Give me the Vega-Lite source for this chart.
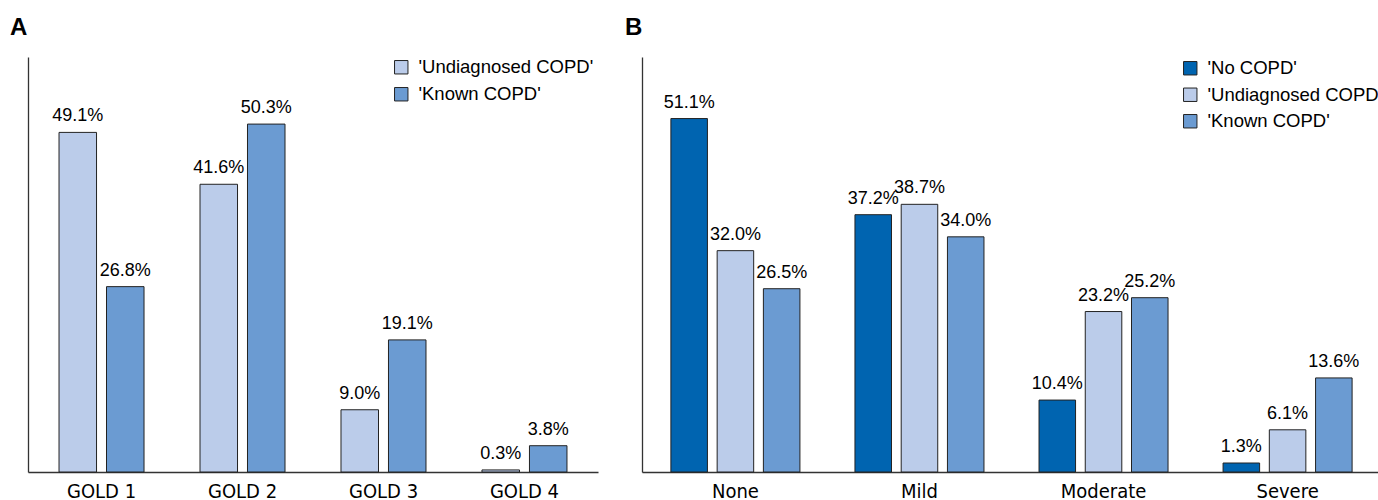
{
  "$schema": "https://vega.github.io/schema/vega-lite/v6.json",
  "padding": {"left": 10, "top": 16, "right": 0, "bottom": 0},
  "background": "white",
  "bounds": "flush",
  "spacing": 44,
  "config": {"view": {"stroke": null}, "font": "Liberation Sans"},
  "datasets": {
    "gold": [
      {"stage": "GOLD 1", "group": "'Undiagnosed COPD'", "value": 49.1, "lbl": "49.1%"},
      {"stage": "GOLD 1", "group": "'Known COPD'", "value": 26.8, "lbl": "26.8%"},
      {"stage": "GOLD 2", "group": "'Undiagnosed COPD'", "value": 41.6, "lbl": "41.6%"},
      {"stage": "GOLD 2", "group": "'Known COPD'", "value": 50.3, "lbl": "50.3%"},
      {"stage": "GOLD 3", "group": "'Undiagnosed COPD'", "value": 9.0, "lbl": "9.0%"},
      {"stage": "GOLD 3", "group": "'Known COPD'", "value": 19.1, "lbl": "19.1%"},
      {"stage": "GOLD 4", "group": "'Undiagnosed COPD'", "value": 0.3, "lbl": "0.3%"},
      {"stage": "GOLD 4", "group": "'Known COPD'", "value": 3.8, "lbl": "3.8%"}
    ],
    "sev": [
      {"stage": "None", "group": "'No COPD'", "value": 51.1, "lbl": "51.1%"},
      {"stage": "None", "group": "'Undiagnosed COPD'", "value": 32.0, "lbl": "32.0%"},
      {"stage": "None", "group": "'Known COPD'", "value": 26.5, "lbl": "26.5%"},
      {"stage": "Mild", "group": "'No COPD'", "value": 37.2, "lbl": "37.2%"},
      {"stage": "Mild", "group": "'Undiagnosed COPD'", "value": 38.7, "lbl": "38.7%"},
      {"stage": "Mild", "group": "'Known COPD'", "value": 34.0, "lbl": "34.0%"},
      {"stage": "Moderate", "group": "'No COPD'", "value": 10.4, "lbl": "10.4%"},
      {"stage": "Moderate", "group": "'Undiagnosed COPD'", "value": 23.2, "lbl": "23.2%"},
      {"stage": "Moderate", "group": "'Known COPD'", "value": 25.2, "lbl": "25.2%"},
      {"stage": "Severe", "group": "'No COPD'", "value": 1.3, "lbl": "1.3%"},
      {"stage": "Severe", "group": "'Undiagnosed COPD'", "value": 6.1, "lbl": "6.1%"},
      {"stage": "Severe", "group": "'Known COPD'", "value": 13.6, "lbl": "13.6%"}
    ]
  },
  "hconcat": [
    {
      "width": 570,
      "height": 415,
      "data": {"name": "gold"},
      "title": {"text": "A", "anchor": "start", "dx": -18, "fontSize": 24, "fontWeight": "bold", "color": "black", "baseline": "alphabetic", "offset": -2, "font": "Liberation Sans"},
      "encoding": {
        "x": {"field": "stage", "type": "nominal", "sort": ["GOLD 1", "GOLD 2", "GOLD 3", "GOLD 4"],
              "scale": {"paddingInner": 0.397, "paddingOuter": 0.22},
              "axis": {"title": null, "labelAngle": 0, "ticks": false, "labelFont": "Liberation Sans Narrow, DejaVu Sans Condensed, Liberation Sans", "labelFontSize": 20, "labelPadding": 9, "labelColor": "black", "domainColor": "#333333", "domainWidth": 1.3}},
        "xOffset": {"field": "group", "type": "nominal", "sort": ["'Undiagnosed COPD'", "'Known COPD'"], "scale": {"paddingInner": 0.21, "paddingOuter": 0}},
        "y": {"field": "value", "type": "quantitative", "scale": {"domain": [0, 60], "nice": false},
              "axis": {"title": null, "labels": false, "ticks": false, "grid": false, "domainColor": "#333333", "domainWidth": 1.3}}
      },
      "layer": [
        {
          "mark": {"type": "bar", "stroke": "#222222", "strokeWidth": 1},
          "encoding": {
            "color": {"field": "group", "type": "nominal",
              "scale": {"domain": ["'Undiagnosed COPD'", "'Known COPD'"], "range": ["#BBCCEA", "#6B9BD2"]},
              "legend": {"title": null, "orient": "none", "legendX": 364, "legendY": 1, "symbolType": "square", "symbolSize": 180, "symbolStrokeColor": "#222222", "symbolStrokeWidth": 1, "symbolOpacity": 1, "labelFontSize": 18.5, "labelLimit": 400, "labelColor": "black", "labelOffset": 8, "rowPadding": 8, "padding": 0}}
          }
        },
        {
          "mark": {"type": "text", "baseline": "alphabetic", "dy": -11, "fontSize": 18, "color": "black"},
          "encoding": {"text": {"field": "lbl", "type": "nominal"}}
        }
      ]
    },
    {
      "width": 739,
      "height": 415,
      "data": {"name": "sev"},
      "title": {"text": "B", "anchor": "start", "dx": -17, "fontSize": 24, "fontWeight": "bold", "color": "black", "baseline": "alphabetic", "offset": -2, "font": "Liberation Sans"},
      "encoding": {
        "x": {"field": "stage", "type": "nominal", "sort": ["None", "Mild", "Moderate", "Severe"],
              "scale": {"paddingInner": 0.299, "paddingOuter": 0.157},
              "axis": {"title": null, "labelAngle": 0, "ticks": false, "labelFont": "Liberation Sans Narrow, DejaVu Sans Condensed, Liberation Sans", "labelFontSize": 20, "labelPadding": 9, "labelColor": "black", "domainColor": "#333333", "domainWidth": 1.3}},
        "xOffset": {"field": "group", "type": "nominal", "sort": ["'No COPD'", "'Undiagnosed COPD'", "'Known COPD'"], "scale": {"paddingInner": 0.21, "paddingOuter": 0}},
        "y": {"field": "value", "type": "quantitative", "scale": {"domain": [0, 60], "nice": false},
              "axis": {"title": null, "labels": false, "ticks": false, "grid": false, "domainColor": "#333333", "domainWidth": 1.3}}
      },
      "layer": [
        {
          "mark": {"type": "bar", "stroke": "#222222", "strokeWidth": 1},
          "encoding": {
            "color": {"field": "group", "type": "nominal",
              "scale": {"domain": ["'No COPD'", "'Undiagnosed COPD'", "'Known COPD'"], "range": ["#0064B0", "#BBCCEA", "#6B9BD2"]},
              "legend": {"title": null, "orient": "none", "legendX": 539, "legendY": 2, "symbolType": "square", "symbolSize": 180, "symbolStrokeColor": "#222222", "symbolStrokeWidth": 1, "symbolOpacity": 1, "labelFontSize": 18.5, "labelLimit": 400, "labelColor": "black", "labelOffset": 8, "rowPadding": 7.5, "padding": 0}}
          }
        },
        {
          "mark": {"type": "text", "baseline": "alphabetic", "dy": -11, "fontSize": 18, "color": "black"},
          "encoding": {"text": {"field": "lbl", "type": "nominal"}}
        }
      ]
    }
  ],
  "resolve": {"scale": {"color": "independent", "x": "independent", "y": "independent", "xOffset": "independent"}, "legend": {"color": "independent"}}
}
